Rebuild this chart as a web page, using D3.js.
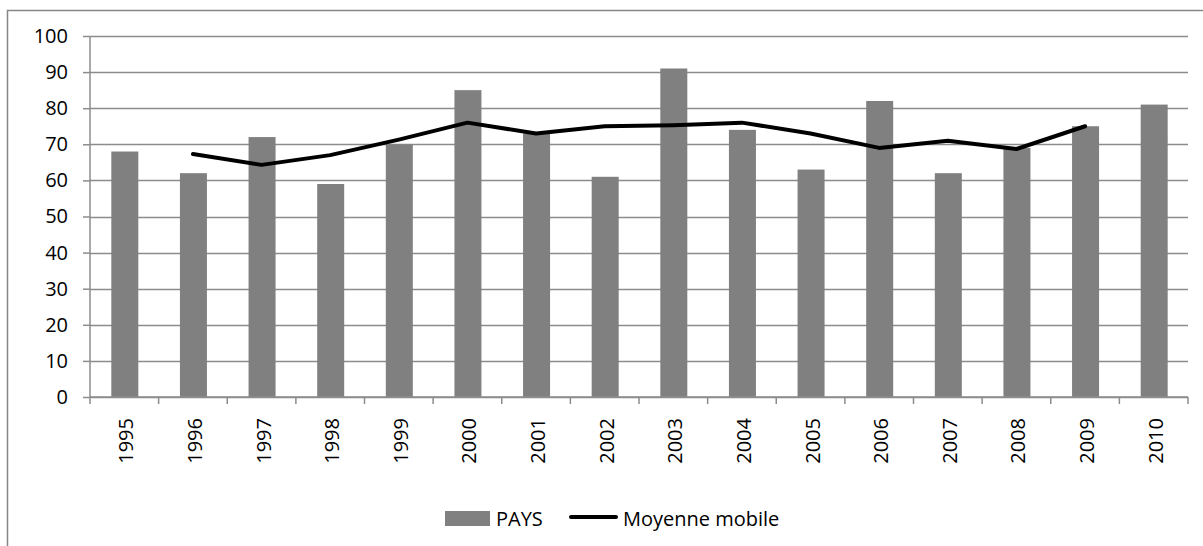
<!DOCTYPE html>
<html>
<head>
<meta charset="utf-8">
<script src="https://cdn.jsdelivr.net/npm/d3@7"></script>
<style>
  body { margin: 0; background: #fff; }
  svg { display: block; }
  text { font-family: "Open Sans", sans-serif; fill: #000; }
</style>
</head>
<body>
<div id="chart"></div>
<script>
var years = ["1995","1996","1997","1998","1999","2000","2001","2002","2003","2004","2005","2006","2007","2008","2009","2010"];
var pays = [68, 62, 72, 59, 70, 85, 73, 61, 91, 74, 63, 82, 62, 69, 75, 81];
var moyenneYears = ["1996","1997","1998","1999","2000","2001","2002","2003","2004","2005","2006","2007","2008","2009"];
var moyenne = [67.3, 64.3, 67, 71.3, 76, 73, 75, 75.3, 76, 73, 69, 71, 68.7, 75];
var yTicks = [0, 10, 20, 30, 40, 50, 60, 70, 80, 90, 100];

var W = 1203, H = 546;
var margin = {top: 36, right: 15, bottom: 149, left: 90};
var width = 1188 - margin.left;
var height = 397 - margin.top;
var fontSize = "20px";

var svg = d3.select("#chart").append("svg")
  .attr("width", W)
  .attr("height", H);

// outer chart frame
svg.append("rect")
  .attr("x", 7.5).attr("y", 10.5)
  .attr("width", 1210).attr("height", 550)
  .attr("fill", "none")
  .attr("stroke", "#868686")
  .attr("stroke-width", 1.5);

var g = svg.append("g")
  .attr("transform", "translate(" + margin.left + "," + margin.top + ")");

var xc = d3.scalePoint()
  .domain(years)
  .range([0, width])
  .padding(0.5);

var y = d3.scaleLinear()
  .domain([0, 100])
  .range([height, 0]);

// gridlines
g.append("g")
  .selectAll("line")
  .data(yTicks)
  .enter().append("line")
    .attr("x1", 0).attr("x2", width)
    .attr("y1", function(d) { return Math.round(y(d)) + 0.5; })
    .attr("y2", function(d) { return Math.round(y(d)) + 0.5; })
    .attr("stroke", "#8c8c8c")
    .attr("stroke-width", 1.5);

// bars
g.append("g")
  .selectAll("rect")
  .data(pays)
  .enter().append("rect")
    .attr("x", function(d, i) { return xc(years[i]) - 13; })
    .attr("width", 27)
    .attr("y", function(d) { return y(d); })
    .attr("height", function(d) { return height - y(d); })
    .attr("fill", "#808080");

// moving average line
var line = d3.line()
  .x(function(d, i) { return xc(moyenneYears[i]); })
  .y(function(d) { return y(d); });

g.append("path")
  .datum(moyenne)
  .attr("d", line)
  .attr("fill", "none")
  .attr("stroke", "#000")
  .attr("stroke-width", 4)
  .attr("stroke-linejoin", "round")
  .attr("stroke-linecap", "round");

// y axis
var yAxis = d3.axisLeft(y)
  .tickValues(yTicks)
  .tickSize(7)
  .tickPadding(15);

var ya = g.append("g").call(yAxis);
ya.select(".domain").attr("stroke", "#8c8c8c").attr("stroke-width", 1.5).attr("d", "M0,0V" + height);
ya.selectAll(".tick line").attr("stroke", "#8c8c8c").attr("stroke-width", 1.5);
ya.selectAll("text")
  .style("font-size", fontSize)
  .style("font-family", "'Open Sans', sans-serif")
  .attr("fill", "#000");

// x axis
var xAxisG = g.append("g")
  .attr("transform", "translate(0," + height + ")");

xAxisG.append("line")
  .attr("x1", 0).attr("x2", width)
  .attr("y1", 0).attr("y2", 0)
  .attr("stroke", "#8c8c8c")
  .attr("stroke-width", 1.5);

var step = width / years.length;
xAxisG.selectAll(".xtick")
  .data(d3.range(years.length + 1))
  .enter().append("line")
    .attr("class", "xtick")
    .attr("x1", function(d) { return d * step; })
    .attr("x2", function(d) { return d * step; })
    .attr("y1", 0).attr("y2", 7)
    .attr("stroke", "#8c8c8c")
    .attr("stroke-width", 1.5);

xAxisG.selectAll(".xlabel")
  .data(years)
  .enter().append("text")
    .attr("class", "xlabel")
    .attr("transform", function(d) { return "translate(" + (xc(d) + 9) + ",21) rotate(-90)"; })
    .attr("text-anchor", "end")
    .style("font-size", fontSize)
    .text(function(d) { return d; });

// legend
var legend = svg.append("g");
legend.append("rect")
  .attr("x", 445).attr("y", 511)
  .attr("width", 45).attr("height", 15)
  .attr("fill", "#808080");
legend.append("text")
  .attr("x", 496).attr("y", 526)
  .style("font-size", fontSize)
  .text("PAYS");
legend.append("line")
  .attr("x1", 571).attr("x2", 616)
  .attr("y1", 517).attr("y2", 517)
  .attr("stroke", "#000")
  .attr("stroke-width", 4)
  .attr("stroke-linecap", "round");
legend.append("text")
  .attr("x", 623).attr("y", 526)
  .style("font-size", fontSize)
  .text("Moyenne mobile");
</script>
</body>
</html>
